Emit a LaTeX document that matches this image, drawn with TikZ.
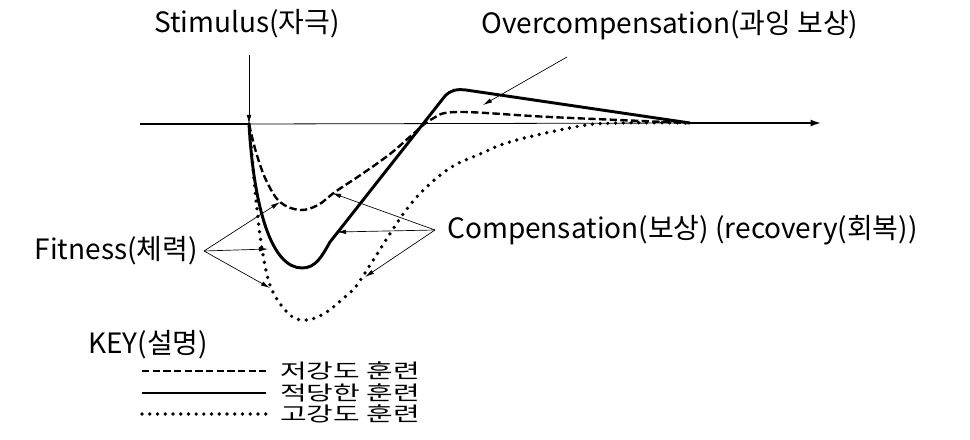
\documentclass[tikz,border=0pt]{standalone}
\usepackage{fontspec}
\setmainfont{Noto Sans CJK KR}
\newcommand{\keytext}[1]{\scalebox{1.45}[1]{#1}}
\usetikzlibrary{arrows.meta, positioning}

\begin{document}
\begin{tikzpicture}[
		x=0.75pt, y=-0.75pt,
		font=\fontsize{21}{24}\selectfont,
		lbl/.style={
			inner sep=0pt
		},
		keytxt/.style={
			lbl,
			anchor=west,
			inner xsep=10.5pt,
			font=\fontsize{15}{17}\selectfont
		},
		fl/.style={
			-{Latex[length=2.4mm,width=1.2mm]},
			line width=0.5pt
		},
		low/.style={
			line width=1.8pt,
			dash pattern=on 5.5pt off 2.5pt
		},
		mid/.style={
			line width=2.2pt
		},
		high/.style={
			line width=2.8pt,
			line cap=round,
			dash pattern=on 0pt off 5.8pt
		}
		]
		\useasboundingbox (0,0) rectangle (970,439);
		
		% Achse
		\coordinate (o) at (140,124);
		\coordinate (s0) at (249,124);
		\coordinate (m) at (690,123);
		\coordinate (e) at (822,123);
		\draw[line width=2pt] (o) -- (s0);
		\draw[line width=0.6pt] (s0) -- (m);
		\draw[line width=2pt, -{Latex[length=3mm,width=1.8mm]}] (m) -- (e);
		
		% Kurven
		\draw[mid] (s0) .. controls (254,210) and (272,268) .. (302,268)
			.. controls (316,268) and (322,256) .. (330,242)
			-- (445,96) .. controls (451,90) and (456,89) .. (466,90)
			-- (m);
		
		\draw[low] plot[smooth, tension=0.6] coordinates {(249,124) (256,152)
			(266,180) (280,202) (300,210) (318,205) (335,192) (362,174)
			(390,154) (412,135) (432,119) (458,112) (550,117) (m)};
		
		\draw[high] plot[smooth, tension=0.6] coordinates {(249,124) (256,200)
			(263,255) (272,290) (290,315) (307,320) (325,313) (345,297)
			(357,285) (372,262) (410,205) (447,170) (480,154) (513,141)
			(580,126) (620,123) (m)};
		
		% Beschriftungen
		\node[lbl] (stim) at (247,24) {Stimulus(자극)};
		\coordinate (stimtop) at (249,55);
		\draw[fl] (stimtop) -- (s0);
		
		\node[lbl] (over) at (670,25) {Overcompensation(과잉 보상)};
		\coordinate (overtop) at (567,57);
		\coordinate (overtip) at (483,105);
		\draw[fl] (overtop) -- (overtip);
		
		\node[lbl, inner xsep=4.5pt, anchor=east] (fit) at (204,251)
		{Fitness(체력)};
		\coordinate (fitlow) at (280,202);
		\coordinate (fitmid) at (268,249);
		\coordinate (fithigh) at (270,288);
		\draw[fl] (fit.east) -- (fitlow);
		\draw[fl] (fit.east) -- (fitmid);
		\draw[fl] (fit.east) -- (fithigh);
		
		\node[lbl, inner xsep=9pt, anchor=west] (comp) at (435,230)
		{Compensation(보상) (recovery(회복))};
		\coordinate (complow) at (332,193);
		\coordinate (compmid) at (337,232);
		\coordinate (comphigh) at (365,277);
		\draw[fl] (comp.west) -- (complow);
		\draw[fl] (comp.west) -- (compmid);
		\draw[fl] (comp.west) -- (comphigh);
		
		% KEY
		\node[lbl, anchor=west] (key) at (88,345) {KEY(설명)};
		
		\node[keytxt] (k1) at (266,371) {\keytext{저강도 훈련}};
		\node[keytxt] (k2) at (266,393) {\keytext{적당한 훈련}};
		\node[keytxt] (k3) at (266,414) {\keytext{고강도 훈련}};
		\coordinate (k1s) at (142,371);
		\coordinate (k2s) at (142,393);
		\coordinate (k3s) at (142,414);
		\draw[low] (k1s) -- (k1.west);
		\draw[mid] (k2s) -- (k2.west);
		\draw[high] (k3s) -- (k3.west);
		
	\end{tikzpicture}
\end{document}
